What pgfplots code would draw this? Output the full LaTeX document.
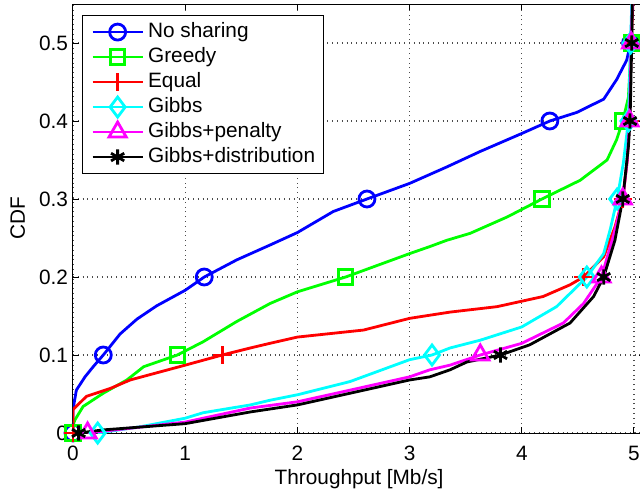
\documentclass[border=0pt]{standalone}
\usepackage{fontspec}
\setmainfont{Liberation Sans}
\usepackage{pgfplots}
\pgfplotsset{compat=1.18}
\definecolor{mblue}{rgb}{0,0,1}
\definecolor{mgreen}{rgb}{0,1,0}
\definecolor{mred}{rgb}{1,0,0}
\definecolor{mcyan}{rgb}{0,1,1}
\definecolor{mmagenta}{rgb}{1,0,1}
\begin{document}
\begin{tikzpicture}[font=\fontsize{10.4pt}{12.5pt}\selectfont]
\begin{axis}[
  scale only axis,
  width=286.1pt, height=214.5pt,
  xmin=0, xmax=5.1, ymin=0, ymax=0.55,
  xtick={0,1,2,3,4,5},
  ytick={0,0.1,0.2,0.3,0.4,0.5},
  /pgf/number format/assume math mode=true,
  /pgf/number format/fixed,
  tick align=inside,
  major tick length=3pt,
  tick style={black, line width=0.5pt},
  axis line style={black, line width=0.5pt},
  grid=major,
  major grid style={dotted, black!70, line width=0.6pt},
  xticklabel style={yshift=-3pt},
  yticklabel style={xshift=1pt},
  xlabel={Throughput [Mb/s]},
  ylabel={CDF},
  every axis y label/.style={at={(axis description cs:-0.0967,0.5)}, rotate=90, anchor=center},
  every axis x label/.style={at={(axis description cs:0.5,-0.107)}, anchor=center},
  legend cell align=left,
  legend style={at={(axis description cs:0.0152,0.9733)}, anchor=north west,
    draw=black, line width=0.5pt, fill=white, inner xsep=2pt, inner ysep=1.8pt,
    row sep=0pt,
    nodes={text height=7.5pt, text depth=2pt, inner ysep=1.5pt}},
  legend image code/.code={\path (0cm,0cm); \draw[mark repeat=2,mark phase=2] plot coordinates {(0.088cm,0cm) (0.528cm,0cm) (0.968cm,0cm)};},
]
\coordinate (SW) at (rel axis cs:0,0);

\addlegendimage{mblue, line width=1.4pt, mark=o, mark size=4pt, mark options={solid}}
\addlegendentry{No sharing}
\addlegendimage{mgreen, line width=1.4pt, mark=square, mark size=3.6pt, mark options={solid}}
\addlegendentry{Greedy}
\addlegendimage{mred, line width=1.4pt, mark=+, mark size=4.5pt, mark options={solid}}
\addlegendentry{Equal}
\addlegendimage{mcyan, line width=1.4pt, mark=diamond, mark size=5pt, mark options={solid}}
\addlegendentry{Gibbs}
\addlegendimage{mmagenta, line width=1.4pt, mark=triangle, mark size=5pt, mark options={solid}}
\addlegendentry{Gibbs+penalty}
\addlegendimage{black, line width=1.4pt, mark=asterisk, mark size=3.8pt, mark options={solid}}
\addlegendentry{Gibbs+distribution}

% No sharing
\addplot[mblue, line width=1.4pt, forget plot] coordinates {
(0,0) (0,0.03) (0.03,0.055) (0.107,0.072) (0.18,0.085) (0.27,0.1) (0.42,0.127) (0.57,0.146) (0.745,0.163) (1.0,0.183) (1.17,0.2) (1.46,0.222) (1.756,0.241) (2.0,0.257) (2.32,0.284) (2.62,0.3) (3.0,0.32) (3.33,0.341) (3.63,0.361) (4.0,0.384) (4.25,0.4) (4.49,0.411) (4.73,0.428) (4.845,0.453) (4.935,0.478) (4.97,0.5) (4.985,0.55)};
\addplot[mblue, line width=1.4pt, only marks, mark=o, mark size=4pt, forget plot] coordinates {
(0,0) (0.27,0.1) (1.17,0.2) (2.62,0.3) (4.25,0.4) (4.97,0.5)};

% Greedy
\addplot[mgreen, line width=1.4pt, forget plot] coordinates {
(0,0) (0,0.01) (0.018,0.017) (0.09,0.034) (0.27,0.051) (0.48,0.068) (0.63,0.085) (0.93,0.1) (1.16,0.117) (1.46,0.143) (1.756,0.166) (2.0,0.181) (2.43,0.2) (3.0,0.23) (3.18,0.239) (3.33,0.247) (3.54,0.256) (3.87,0.277) (4.18,0.3) (4.52,0.324) (4.76,0.35) (4.845,0.376) (4.9,0.4) (4.95,0.43) (4.965,0.47) (4.975,0.5) (4.985,0.55)};
\addplot[mgreen, line width=1.4pt, only marks, mark=square, mark size=3.6pt, forget plot] coordinates {
(0,0) (0.93,0.1) (2.43,0.2) (4.18,0.3) (4.9,0.4) (4.975,0.5)};

% Equal
\addplot[mred, line width=1.4pt, forget plot] coordinates {
(0,0) (0,0.03) (0.12,0.047) (0.33,0.057) (0.51,0.068) (0.716,0.076) (1.0,0.087) (1.33,0.1) (1.58,0.109) (1.756,0.115) (2.0,0.123) (2.59,0.132) (3.0,0.147) (3.18,0.151) (3.36,0.155) (3.78,0.162) (4.19,0.175) (4.43,0.19) (4.55,0.2) (4.73,0.226) (4.83,0.264) (4.9,0.3) (4.94,0.35) (4.96,0.4) (4.975,0.5) (4.99,0.55)};
\addplot[mred, line width=1.4pt, only marks, mark=+, mark size=4.5pt, forget plot] coordinates {
(0,0) (1.33,0.1) (4.55,0.2) (4.9,0.3) (4.96,0.4) (4.975,0.5)};

% Gibbs
\addplot[mcyan, line width=1.4pt, forget plot] coordinates {
(0.22,0) (0.6,0.008) (1.0,0.019) (1.16,0.026) (1.58,0.036) (1.756,0.042) (2.0,0.049) (2.47,0.066) (3.0,0.094) (3.2,0.1) (3.36,0.109) (3.63,0.119) (4.0,0.136) (4.31,0.162) (4.58,0.2) (4.73,0.23) (4.79,0.262) (4.85,0.3) (4.905,0.346) (4.95,0.4) (4.97,0.5) (4.98,0.55)};
\addplot[mcyan, line width=1.4pt, only marks, mark=diamond, mark size=5pt, forget plot] coordinates {
(0.22,0) (3.2,0.1) (4.58,0.2) (4.85,0.3) (4.95,0.4) (4.97,0.5)};

% Gibbs+penalty
\addplot[mmagenta, line width=1.4pt, forget plot] coordinates {
(0.13,0) (0.5,0.006) (1.0,0.014) (1.58,0.032) (2.0,0.040) (2.47,0.055) (3.0,0.072) (3.18,0.081) (3.36,0.087) (3.63,0.1) (4.0,0.115) (4.37,0.141) (4.55,0.166) (4.71,0.2) (4.815,0.252) (4.9,0.3) (4.94,0.35) (4.96,0.4) (4.975,0.5) (4.985,0.55)};
\addplot[mmagenta, line width=1.4pt, only marks, mark=triangle, mark size=5pt, forget plot] coordinates {
(0.13,0) (3.63,0.1) (4.71,0.2) (4.9,0.3) (4.96,0.4) (4.975,0.5)};

% Gibbs+distribution
\addplot[black, line width=1.4pt, forget plot] coordinates {
(0.05,0) (0.27,0.004) (1.0,0.012) (1.58,0.027) (2.0,0.036) (2.47,0.051) (3.0,0.068) (3.18,0.072) (3.36,0.081) (3.51,0.091) (3.81,0.1) (4.07,0.113) (4.43,0.141) (4.64,0.175) (4.73,0.2) (4.83,0.247) (4.9,0.3) (4.95,0.367) (4.965,0.4) (4.98,0.5) (4.985,0.55)};
\addplot[black, line width=1.4pt, only marks, mark=asterisk, mark size=3.8pt, forget plot] coordinates {
(0.05,0) (3.81,0.1) (4.73,0.2) (4.9,0.3) (4.965,0.4) (4.98,0.5)};
\end{axis}
\pgfresetboundingbox
\path ([shift={(-36.5pt,-28pt)}]SW) rectangle ([shift={(283.5pt,216.5pt)}]SW);
\end{tikzpicture}
\end{document}
